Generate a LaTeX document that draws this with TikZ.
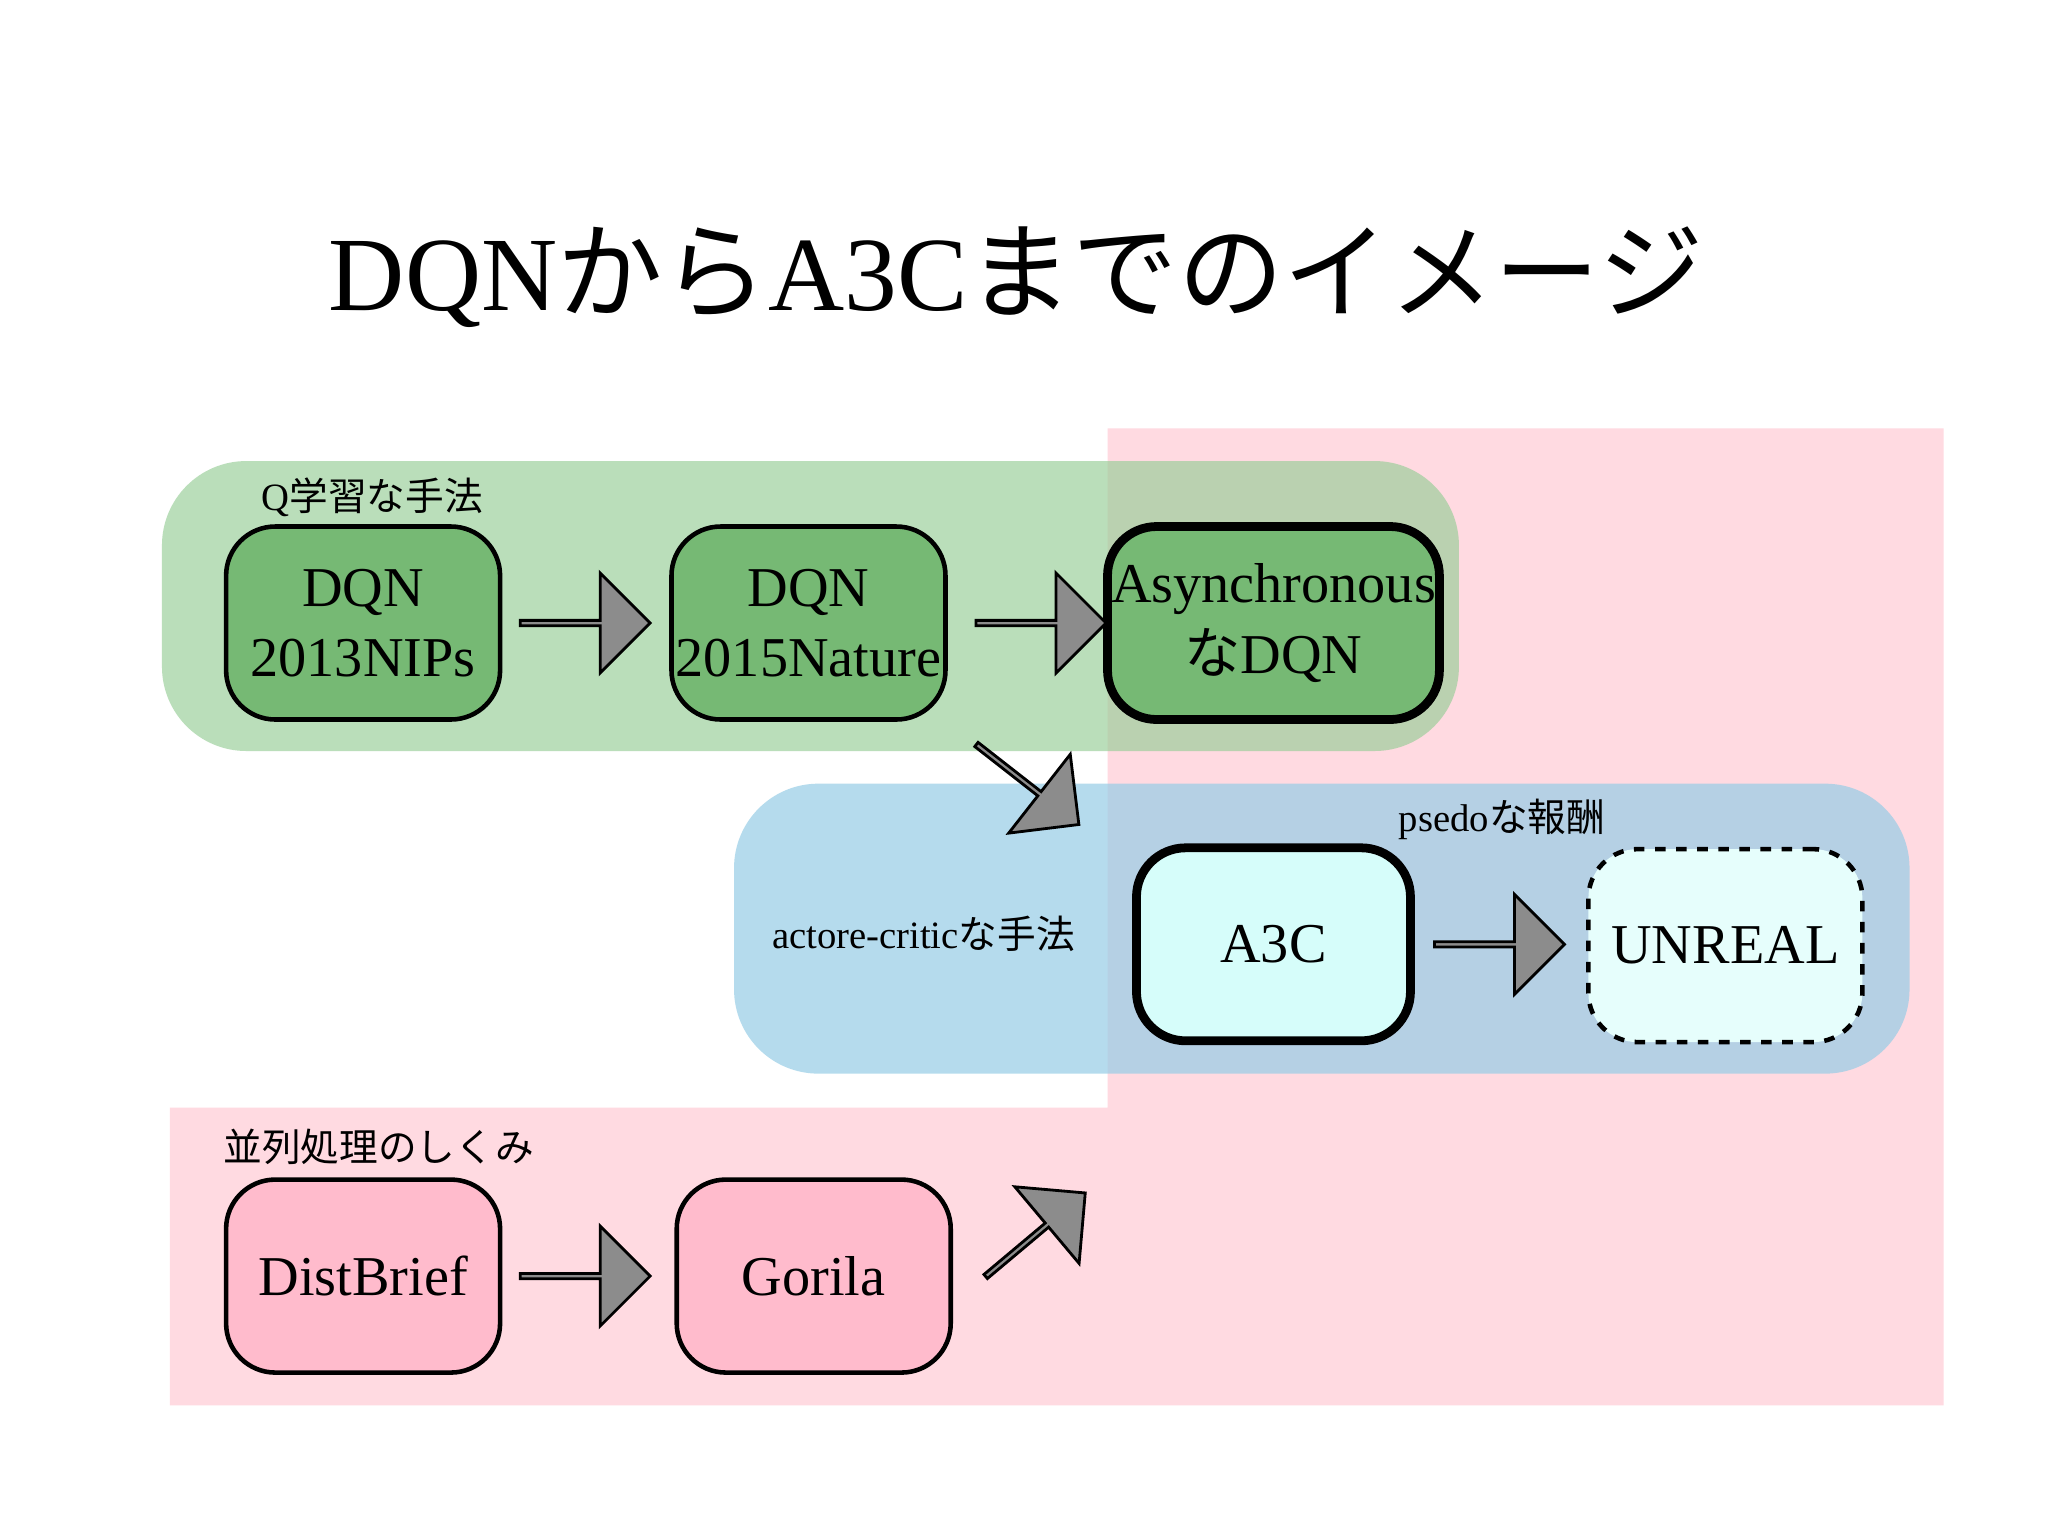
\documentclass[tikz,border=0pt]{standalone}
\usepackage{fontspec}
\setmainfont{Liberation Serif}
\newfontfamily\cjk{Noto Sans CJK JP}
\usetikzlibrary{shapes.arrows,positioning}
\definecolor{bgpink}{RGB}{255,218,225}
\definecolor{bggreen}{RGB}{150,205,150}
\definecolor{bgblue}{RGB}{150,205,230}
\definecolor{qgreen}{RGB}{118,185,116}
\definecolor{acyan}{RGB}{214,253,250}
\definecolor{ppink}{RGB}{255,187,204}
\definecolor{arrowgray}{RGB}{140,140,140}
\tikzset{
  box/.style={draw, line width=1.3pt, rounded corners=14pt, minimum width=2.74cm,
    minimum height=1.93cm, align=center, font=\fontsize{16}{20}\selectfont, inner sep=1pt},
  bigarrow/.style={single arrow, draw, fill=arrowgray, line width=0.8pt,
    minimum height=1.3cm, minimum width=1cm, single arrow head extend=0.25cm,
    single arrow tip angle=90, inner sep=0pt},
  grouplabel/.style={font=\fontsize{11}{13}\selectfont}
}
\begin{document}
\begin{tikzpicture}[x=0.01306cm, y=-0.01306cm]
\useasboundingbox (0,0) rectangle (1568,1176);
\fill[white] (0,0) rectangle (1568,1176);
% background regions
\fill[bgpink] (848,328) -- (1488,328) -- (1488,1076) -- (130,1076) -- (130,848) -- (848,848) -- cycle;
\fill[bggreen, opacity=0.65, rounded corners=24pt] (124,353) rectangle (1117,575);
\fill[bgblue, opacity=0.7, rounded corners=24pt] (562,600) rectangle (1462,822);
% title
\node (title) at (778,212) {\fontsize{30}{36}\selectfont DQN{\cjk から}A3C{\cjk までのイメージ}};
% group labels
\node[grouplabel] (lq) at (285,381) {Q{\cjk 学習な手法}};
\node[grouplabel] (lac) at (707,715) {actore-critic{\cjk な手法}};
\node[grouplabel] (lps) at (1150,627) {psedo{\cjk な報酬}};
\node[grouplabel] (lpar) at (290,878) {\cjk 並列処理のしくみ};
% boxes
\node[box, fill=qgreen] (dqn13) at (278,477) {DQN\\2013NIPs};
\node[box, fill=qgreen] (dqn15) at (619,477) {DQN\\2015Nature};
\node[box, fill=qgreen, line width=2.5pt] (async) at (975,477) {Asynchronous\\{\cjk な}DQN};
\node[box, fill=acyan, line width=2.5pt] (a3c) at (975,723) {A3C};
\node[box, fill=acyan!60, dashed] (unreal) at (1321,724) {UNREAL};
\node[box, fill=ppink] (dist) at (278,977) {DistBrief};
\node[box, fill=ppink] (gorila) at (623,977) {Gorila};
% arrows
\node[bigarrow] (ar1) at (447,477) {};
\node[bigarrow] (ar2) at (796,477) {};
\node[bigarrow] (ar3) at (1147,723) {};
\node[bigarrow] (ar4) at (447,977) {};
\node[bigarrow, rotate=-38] (ar5) at (786,600) {};
\node[bigarrow, rotate=40] (ar6) at (792,946) {};
\end{tikzpicture}
\end{document}
